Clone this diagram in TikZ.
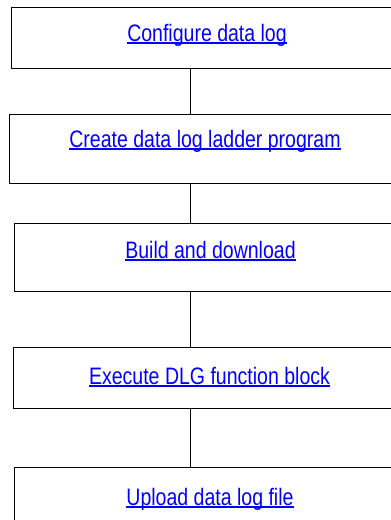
\documentclass[tikz,border=0pt]{standalone}
\usepackage{fontspec}
\setmainfont{Liberation Sans}[FakeStretch=0.82]
\usepackage{xcolor}
\usetikzlibrary{positioning}

% underlined link text, rule drawn at a fixed depth
\newcommand{\linktxt}[1]{\setbox0\hbox{#1}\rlap{\rule[-2.6pt]{\wd0}{1.4pt}}\box0}

\begin{document}
\begin{tikzpicture}[
    stepbox/.style={rectangle, draw, line width=1pt, minimum width=392pt, text=blue,
      font=\fontsize{23.8}{28}\selectfont, inner sep=0pt},
    link/.style={line width=1pt},
]
    \clip (0,0) rectangle (391pt,-520pt);
    \useasboundingbox (0,0) rectangle (391pt,-520pt);

    % Steps (text height = baseline below top edge)
    \node[stepbox, text height=34pt, text depth=27pt] (cfg) at (207pt,-37.5pt) {\linktxt{Configure data log}};
    \node[stepbox, text height=33pt, text depth=36pt, below=45pt of cfg, xshift=-2pt] (ladder) {\linktxt{Create data log ladder program}};
    \node[stepbox, text height=35pt, text depth=33pt, below=39pt of ladder, xshift=5.5pt] (build) {\linktxt{Build and download}};
    \node[stepbox, text height=37pt, text depth=24pt, below=55pt of build, xshift=-1pt] (exec) {\linktxt{Execute DLG function block}};
    \node[stepbox, text height=38pt, text depth=23pt, below=58pt of exec, xshift=0.5pt] (upload) {\linktxt{Upload data log file}};

    % Connectors
    \coordinate (spine) at (190pt,0);
    \draw[link] (cfg.south -| spine) -- (ladder.north -| spine);
    \draw[link] (ladder.south -| spine) -- (build.north -| spine);
    \draw[link] (build.south -| spine) -- (exec.north -| spine);
    \draw[link] (exec.south -| spine) -- (upload.north -| spine);
\end{tikzpicture}
\end{document}
